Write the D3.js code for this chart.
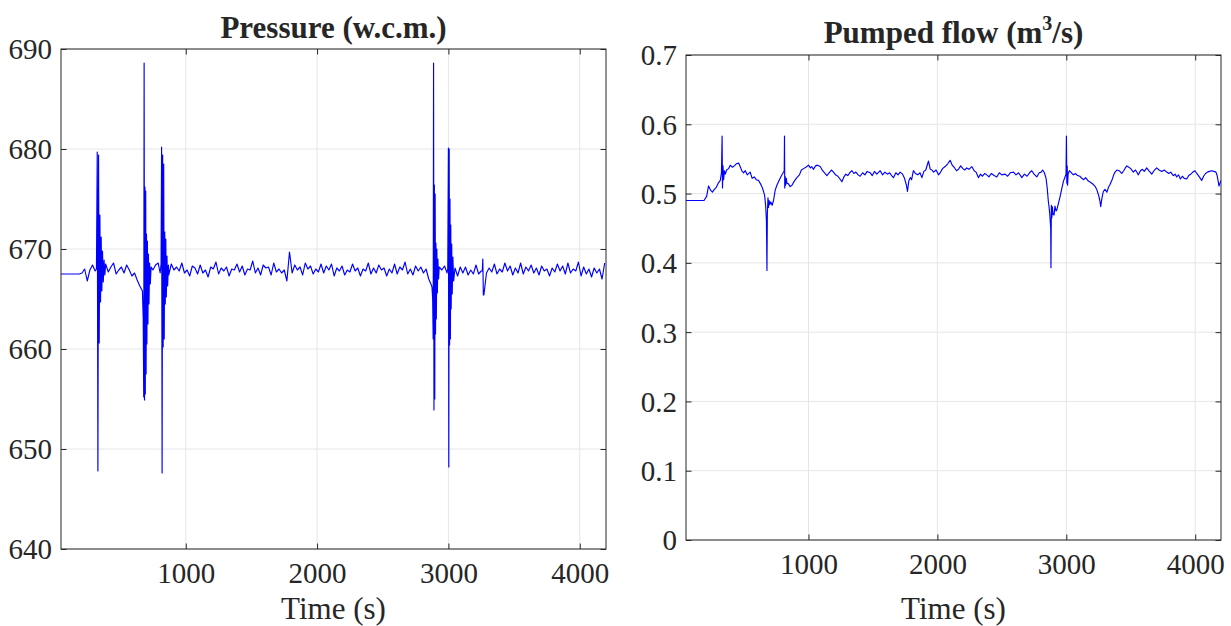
<!DOCTYPE html>
<html><head><meta charset="utf-8">
<script src="https://cdn.jsdelivr.net/npm/d3@7"></script>
<style>
html,body{margin:0;padding:0;background:#fff;}
svg{display:block;}
text{font-family:"Liberation Serif","Times New Roman",serif;fill:#262626;}
</style></head>
<body>
<svg id="chart" width="1231" height="626"></svg>
<script>
// ---------------- DATA ----------------
const timeTicks = [1000, 2000, 3000, 4000];
const pressureTicks = [640, 650, 660, 670, 680, 690];
const flowTicks = [0, 0.1, 0.2, 0.3, 0.4, 0.5, 0.6, 0.7];

// pressure baseline sampled every 20 s starting at 50 s
const pressureStart = 50, pressureStep = 20;
const pressureBase = [
 667.5,667.5,667.5,667.5,667.5,667.5,667.5,667.5,667.6,668.0,
 666.8,667.9,668.4,667.8,668.1,668.3,667.6,668.5,667.7,668.2,
 668.6,667.5,667.9,668.2,667.6,668.4,667.9,667.3,667.6,666.9,
 666.3,665.9,666.5,667.8,668.6,667.9,668.4,668.6,667.8,667.6,
 668.0,667.4,668.5,667.9,668.2,667.8,668.6,667.6,667.9,667.3,
 668.3,668.1,667.5,668.4,667.6,667.9,667.2,668.2,668.0,668.7,
 667.5,668.1,667.8,668.2,667.3,668.0,667.9,668.5,667.7,668.3,
 667.4,668.0,667.9,668.8,667.6,668.1,667.4,668.4,668.1,668.2,
 667.4,668.6,667.7,668.0,667.6,667.9,666.8,669.7,667.6,668.4,
 667.9,668.2,667.4,668.6,668.0,668.3,667.5,668.0,667.7,668.5,
 667.6,668.3,667.9,668.5,667.3,668.1,667.8,668.3,667.4,667.9,
 667.7,668.5,667.8,668.1,667.3,668.0,667.8,668.6,667.5,668.1,
 667.6,668.4,667.9,668.1,667.3,668.0,667.6,668.5,667.5,668.2,
 667.9,668.7,667.5,668.0,667.4,668.3,667.8,668.2,667.6,668.0,
 667.0,666.4,667.0,667.8,668.2,667.9,668.3,667.6,667.9,667.5,
 668.1,667.3,668.2,667.6,668.2,667.4,667.9,667.5,668.4,667.5,
 667.8,665.4,667.6,668.1,667.7,668.5,667.5,668.0,667.7,668.6,
 667.8,668.3,667.4,668.1,667.6,668.6,667.5,668.2,667.8,668.4,
 667.6,668.1,667.4,668.3,667.8,668.0,667.3,668.1,667.7,668.5,
 667.8,668.3,667.5,668.6,667.6,668.0,667.8,668.7,667.3,668.2,
 667.5,668.0,667.2,668.1,667.6,668.0,667.0,668.6
];

// transient bursts (explicit time / value pairs)
const burst1Time  = [320,326,331,336,341,346,351,356,361,366,372,378,384];
const burst1Value = [668.0,679.7,647.8,679.4,660.6,673.4,664.7,671.2,665.8,669.8,666.7,668.9,667.4];
const burst2Time  = [670,676,680,683,686,689,692,695,698,701,704,708,712,716,720,725,730,736];
const burst2Value = [665.8,663.0,655.2,688.6,654.9,676.2,655.5,675.8,657.5,671.5,660.5,670.8,662.5,669.5,664.5,668.6,666.5,668.2];
const burst3Time  = [805,812,816,820,824,828,832,836,840,844,848,852,857,862,868];
const burst3Value = [667.6,668.5,680.2,647.6,679.4,660.2,678.5,661.0,671.7,664.5,671.0,665.2,669.3,666.3,668.4];
const burst4Time  = [2875,2880,2884,2887,2890,2893,2896,2899,2902,2905,2908,2912,2916,2920,2925];
const burst4Value = [666.2,665.0,661.0,688.6,653.9,676.4,655.0,675.5,661.5,670.6,663.0,670.0,665.6,669.0,667.0];
const burst5Time  = [2995,3000,3003,3006,3009,3012,3015,3018,3021,3025,3029,3034,3040];
const burst5Value = [668.0,680.1,648.2,680.0,660.4,675.0,661.0,672.4,664.0,670.5,665.5,669.2,666.8];
const burst6Time  = [3258,3262,3266];
const burst6Value = [667.8,669.0,665.4];

// pumped flow (time s, value m3/s)
const flowTime = [
 50,100,150,190,210,225,240,255,270,285,300,316,325,330,333,337,342,348,355,365,
 380,393,410,425,440,458,470,485,497,510,525,548,563,579,595,613,628,639,650,660,
 668,674,678,681,686,690,695,700,708,718,729,742,755,770,785,800,812,814,816,819,
 823,828,833,845,858,872,890,910,930,945,962,980,1000,1015,1025,1039,1055,1070,1091,1110,
 1125,1143,1160,1178,1194,1210,1228,1245,1259,1275,1290,1305,1320,1337,1352,1368,1385,1401,1420,1438,
 1455,1479,1495,1512,1530,1556,1575,1593,1612,1630,1645,1659,1678,1695,1711,1730,1745,1760,1768,1778,
 1790,1800,1814,1830,1848,1865,1880,1895,1910,1931,1945,1958,1970,1990,2009,2025,2040,2060,2080,2099,
 2115,2130,2148,2164,2180,2198,2212,2228,2245,2267,2285,2300,2318,2335,2350,2367,2383,2400,2418,2440,
 2461,2480,2500,2525,2545,2565,2590,2610,2630,2655,2675,2695,2715,2732,2750,2771,2790,2805,2817,2830,
 2843,2852,2860,2866,2872,2879,2881,2884,2888,2892,2897,2905,2912,2920,2926,2938,2951,2965,2978,2990,
 2998,3001,3004,3007,3010,3014,3018,3024,3040,3055,3070,3088,3105,3120,3135,3150,3171,3190,3210,3225,
 3236,3250,3260,3267,3275,3287,3300,3315,3327,3339,3355,3368,3378,3392,3410,3430,3445,3458,3469,3485,
 3500,3520,3537,3550,3559,3575,3590,3605,3624,3640,3655,3663,3680,3701,3720,3740,3760,3779,3795,3810,
 3830,3845,3856,3870,3885,3900,3915,3934,3950,3965,3982,3998,4012,4025,4040,4050,4065,4080,4095,4110,
 4128,4145,4161,4170,4178,4184,4192,4200
];
const flowValue = [
 .490,.490,.490,.490,.496,.511,.505,.502,.506,.509,.515,.519,.530,.583,.508,.540,.520,.533,.528,.534,
 .536,.541,.538,.540,.543,.544,.539,.532,.530,.533,.527,.531,.522,.524,.520,.519,.514,.510,.504,.497,
 .482,.460,.389,.470,.494,.480,.490,.484,.488,.483,.490,.505,.512,.518,.524,.529,.533,.583,.508,.525,
 .512,.522,.515,.514,.510,.512,.518,.523,.527,.534,.536,.538,.541,.537,.539,.535,.540,.541,.539,.533,
 .530,.526,.530,.534,.531,.527,.525,.521,.517,.524,.528,.526,.530,.533,.529,.531,.527,.525,.530,.527,
 .532,.530,.526,.532,.528,.533,.527,.531,.528,.530,.526,.523,.530,.527,.531,.528,.522,.512,.503,.518,
 .523,.520,.533,.529,.527,.530,.523,.532,.534,.547,.535,.534,.531,.534,.527,.531,.536,.539,.543,.548,
 .541,.538,.533,.535,.540,.536,.534,.537,.535,.539,.533,.531,.523,.528,.525,.529,.527,.524,.529,.526,
 .524,.530,.527,.528,.525,.530,.531,.527,.530,.523,.528,.525,.530,.533,.528,.524,.530,.531,.534,.530,
 .522,.508,.490,.481,.470,.450,.393,.483,.465,.481,.470,.469,.482,.475,.476,.485,.495,.507,.518,.524,
 .528,.583,.515,.540,.512,.528,.530,.533,.530,.527,.529,.526,.525,.522,.520,.523,.518,.516,.513,.510,
 .506,.498,.490,.481,.492,.503,.506,.502,.509,.513,.520,.527,.531,.534,.533,.529,.533,.537,.540,.538,
 .536,.531,.534,.530,.527,.533,.535,.532,.537,.533,.530,.528,.533,.537,.534,.532,.534,.531,.529,.531,
 .526,.528,.524,.527,.521,.525,.522,.521,.526,.528,.531,.533,.529,.526,.522,.519,.525,.529,.531,.532,
 .533,.532,.531,.526,.518,.511,.515,.519
];

// ---------------- BUILD ----------------
const svg = d3.select("#chart");
const AXIS = "#262626", GRID = "#e6e6e6", LINE = "#0000ff";

function buildPressure() {
  const bursts = [[burst1Time,burst1Value],[burst2Time,burst2Value],[burst3Time,burst3Value],
                  [burst4Time,burst4Value],[burst5Time,burst5Value],[burst6Time,burst6Value]];
  const ranges = bursts.map(b => [d3.min(b[0]), d3.max(b[0])]);
  const pts = [];
  pressureBase.forEach((v,i) => {
    const t = pressureStart + i*pressureStep;
    if (!ranges.some(r => t >= r[0] && t <= r[1])) pts.push([t, v]);
  });
  bursts.forEach(b => b[0].forEach((t,i) => pts.push([t, b[1][i]])));
  pts.sort((a,b) => a[0]-b[0]);
  return pts;
}

function panel(cfg) {
  const x = d3.scaleLinear().domain([50, 4200]).range([cfg.x0, cfg.x1]);
  const y = d3.scaleLinear().domain(cfg.yDomain).range([cfg.y1, cfg.y0]);
  const g = svg.append("g");
  // grid
  g.append("g").selectAll("line").data(timeTicks).join("line")
    .attr("x1", d => x(d)).attr("x2", d => x(d)).attr("y1", cfg.y0).attr("y2", cfg.y1)
    .attr("stroke", GRID).attr("stroke-width", 1);
  g.append("g").selectAll("line").data(cfg.yTicks).join("line")
    .attr("x1", cfg.x0).attr("x2", cfg.x1).attr("y1", d => y(d)).attr("y2", d => y(d))
    .attr("stroke", GRID).attr("stroke-width", 1);
  // line
  const clipId = "clip" + cfg.id;
  svg.append("clipPath").attr("id", clipId).append("rect")
    .attr("x", cfg.x0).attr("y", cfg.y0).attr("width", cfg.x1-cfg.x0).attr("height", cfg.y1-cfg.y0);
  g.append("path").datum(cfg.data).attr("clip-path", `url(#${clipId})`)
    .attr("fill", "none").attr("stroke", LINE).attr("stroke-width", 1.15).attr("stroke-linejoin","round")
    .attr("d", d3.line().x(d => x(d[0])).y(d => y(d[1])));
  // axes via d3 axis (inward ticks)
  const tl = 5.5;
  const bottom = g.append("g").attr("transform", `translate(0,${cfg.y1})`)
    .call(d3.axisBottom(x).tickValues(timeTicks).tickSizeInner(-tl).tickSizeOuter(0).tickPadding(13).tickFormat(d3.format("d")));
  const top = g.append("g").attr("transform", `translate(0,${cfg.y0})`)
    .call(d3.axisTop(x).tickValues(timeTicks).tickSizeInner(-tl).tickSizeOuter(0).tickFormat(""));
  const left = g.append("g").attr("transform", `translate(${cfg.x0},0)`)
    .call(d3.axisLeft(y).tickValues(cfg.yTicks).tickSizeInner(-tl).tickSizeOuter(0).tickPadding(9).tickFormat(cfg.fmt));
  const right = g.append("g").attr("transform", `translate(${cfg.x1},0)`)
    .call(d3.axisRight(y).tickValues(cfg.yTicks).tickSizeInner(-tl).tickSizeOuter(0).tickFormat(""));
  [bottom, top, left, right].forEach(a => {
    a.select(".domain").remove();
    a.selectAll("line").attr("stroke", AXIS);
    a.selectAll("text").attr("font-family", '"Liberation Serif", serif').attr("font-size", 29).attr("fill", AXIS);
  });
  bottom.selectAll("text").attr("dy", "0.71em");
  left.selectAll("text").attr("dy", "0.34em");
  // box
  g.append("rect").attr("x", cfg.x0).attr("y", cfg.y0).attr("width", cfg.x1-cfg.x0).attr("height", cfg.y1-cfg.y0)
    .attr("fill", "none").attr("stroke", AXIS).attr("stroke-width", 1);
  // x label
  g.append("text").attr("x", (cfg.x0+cfg.x1)/2).attr("y", 619).attr("text-anchor", "middle")
    .attr("font-size", 31).text("Time (s)");
  // title
  const t = g.append("text").attr("x", (cfg.x0+cfg.x1)/2).attr("y", cfg.titleY).attr("text-anchor", "middle")
    .attr("font-size", 31).attr("font-weight", "bold").attr("fill", "#000");
  cfg.title(t);
}

panel({
  id: "p", x0: 61, x1: 606, y0: 49, y1: 549, yDomain: [640, 690], yTicks: pressureTicks,
  fmt: d3.format("d"), data: buildPressure(), titleY: 38,
  title: t => t.text("Pressure (w.c.m.)")
});
panel({
  id: "f", x0: 686, x1: 1221, y0: 55, y1: 540, yDomain: [0, 0.7], yTicks: flowTicks,
  fmt: d => d === 0 ? "0" : d3.format(".1f")(d),
  data: flowTime.map((t,i) => [t, flowValue[i]]), titleY: 43,
  title: t => {
    t.append("tspan").text("Pumped flow (m");
    t.append("tspan").attr("font-size", 20).attr("dy", -13).text("3");
    t.append("tspan").attr("dy", 13).text("/s)");
  }
});
</script>
</body></html>
